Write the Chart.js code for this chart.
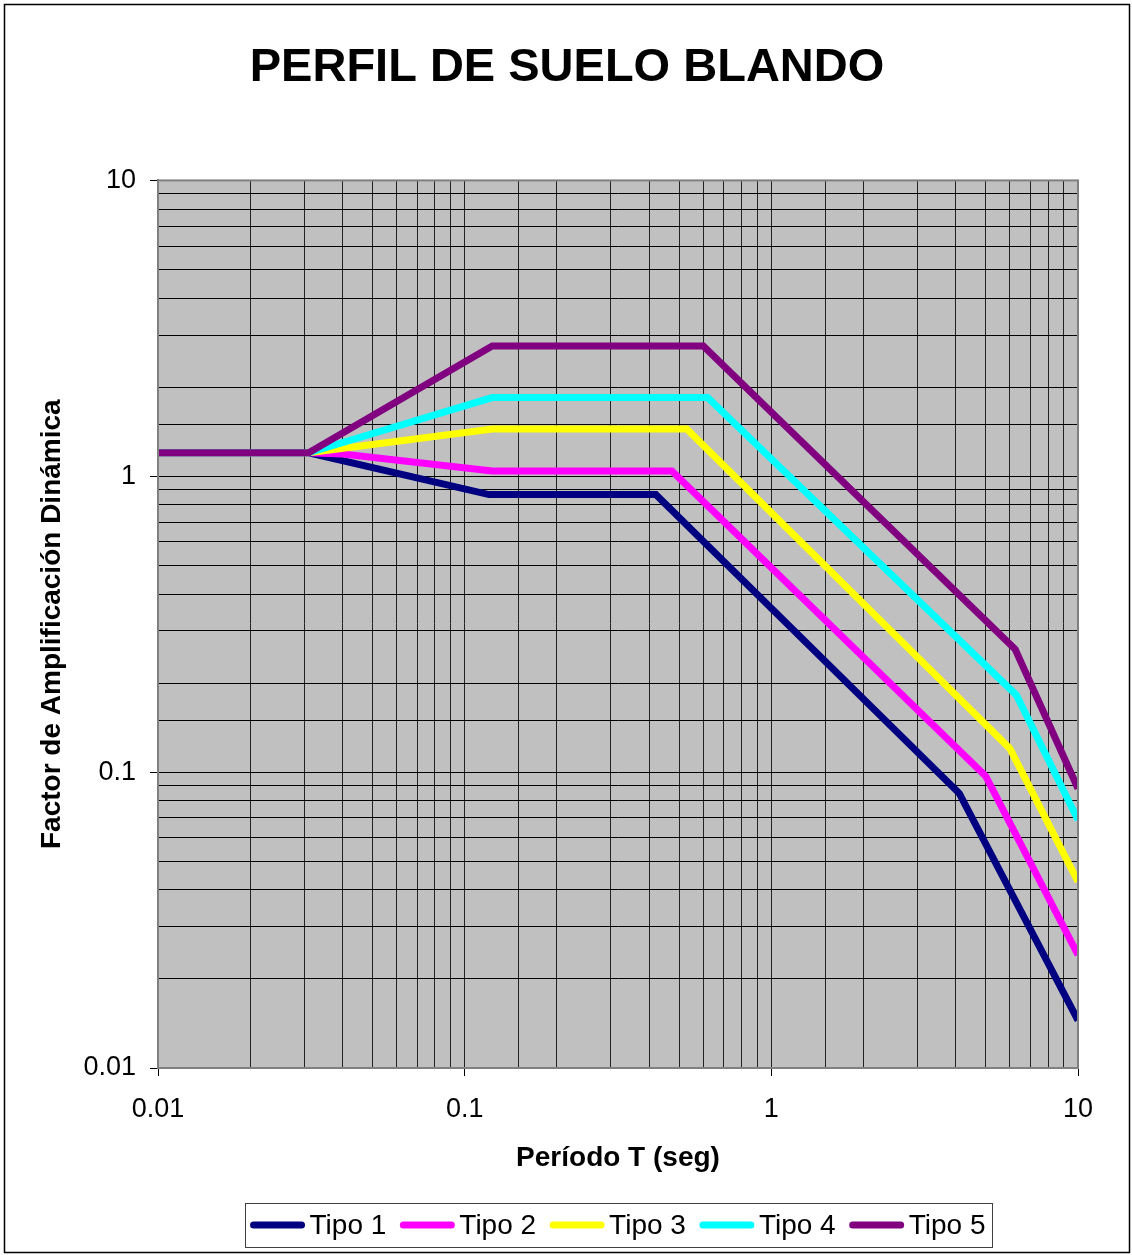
<!DOCTYPE html>
<html>
<head>
<meta charset="utf-8">
<script src="https://cdn.jsdelivr.net/npm/chart.js@4.4.1/dist/chart.umd.min.js"></script>
<style>
  html, body { margin: 0; padding: 0; background: #fff; }
  #wrap { width: 1132px; height: 1255px; }
</style>
</head>
<body>
<div id="wrap"><canvas id="chart1"></canvas></div>
<script>
// valores (periodo T en seg, factor de amplificacion)
const tipos = ["Tipo 1", "Tipo 2", "Tipo 3", "Tipo 4", "Tipo 5"];
const colores = ["#000080", "#FF00FF", "#FFFF00", "#00FFFF", "#800080"];

const periodo1 = [0.01, 0.031, 0.12, 0.42, 4.1, 10];
const tipo1 = [1.2, 1.2, 0.867, 0.867, 0.0848, 0.0145];

const periodo2 = [0.01, 0.031, 0.04, 0.123, 0.474, 5.0, 10];
const tipo2 = [1.2, 1.2, 1.19, 1.042, 1.042, 0.0969, 0.0241];

const periodo3 = [0.01, 0.031, 0.123, 0.53, 6.0, 10];
const tipo3 = [1.2, 1.2, 1.445, 1.445, 0.12, 0.0426];

const periodo4 = [0.01, 0.031, 0.123, 0.62, 6.3, 10];
const tipo4 = [1.2, 1.2, 1.845, 1.845, 0.182, 0.0689];

const periodo5 = [0.01, 0.031, 0.123, 0.6, 6.24, 10];
const tipo5 = [1.2, 1.2, 2.755, 2.755, 0.26, 0.088];

const ejeX = [0.01, 10];
const ejeY = [0.01, 10];

const periodos = [periodo1, periodo2, periodo3, periodo4, periodo5];
const valores = [tipo1, tipo2, tipo3, tipo4, tipo5];

const FUENTE = "'Liberation Sans', Arial, sans-serif";

function esPotencia(v) {
  const l = Math.log10(v);
  return Math.abs(l - Math.round(l)) < 1e-6;
}

const fondo = {
  id: "fondo",
  beforeDraw(chart) {
    const { ctx, chartArea: a } = chart;
    ctx.save();
    ctx.fillStyle = "#fff";
    ctx.fillRect(0, 0, chart.width, chart.height);
    ctx.fillStyle = "#C0C0C0";
    ctx.fillRect(a.left, a.top, a.right - a.left, a.bottom - a.top);
    ctx.restore();
  },
  afterDraw(chart) {
    const { ctx, chartArea: a } = chart;
    ctx.save();
    // marco del area de trazado
    ctx.strokeStyle = "#808080";
    ctx.lineWidth = 2;
    ctx.strokeRect(a.left, a.top, a.right - a.left, a.bottom - a.top);
    // marco exterior
    ctx.strokeStyle = "#000";
    ctx.lineWidth = 1.5;
    ctx.strokeRect(4.5, 4.5, 1125, 1248);

    // leyenda
    ctx.font = "28px " + FUENTE;
    const linea = 54, hueco = 5, sep = 14, pad = 6;
    const items = chart.data.datasets.map(d => ({
      label: d.label, color: d.borderColor, w: linea + hueco + ctx.measureText(d.label).width
    }));
    const total = items.reduce((s, it) => s + it.w, 0) + sep * (items.length - 1);
    const cx = (a.left + a.right) / 2;
    const bx = cx - total / 2 - pad, by = 1203, bw = total + pad * 2, bh = 44;
    ctx.strokeStyle = "#404040";
    ctx.lineWidth = 1;
    ctx.strokeRect(Math.round(bx) + 0.5, by + 0.5, Math.round(bw), bh);
    let x = bx + pad;
    const y = by + bh / 2;
    ctx.textBaseline = "middle";
    ctx.textAlign = "left";
    items.forEach(it => {
      ctx.strokeStyle = it.color;
      ctx.lineWidth = 7;
      ctx.lineCap = "round";
      ctx.beginPath();
      ctx.moveTo(x + 3, y);
      ctx.lineTo(x + linea - 3, y);
      ctx.stroke();
      ctx.fillStyle = "#000";
      ctx.fillText(it.label, x + linea + hueco, y + 1);
      x += it.w + sep;
    });
    ctx.restore();
  }
};

const ctx1 = document.getElementById("chart1");

new Chart(ctx1, {
  type: "line",
  data: {
    datasets: tipos.map((t, i) => ({
      label: t,
      data: periodos[i].map((p, j) => ({ x: p, y: valores[i][j] })),
      borderColor: colores[i],
      backgroundColor: colores[i],
      borderWidth: 7,
      pointRadius: 0,
      tension: 0,
      order: tipos.length - i,
    })),
  },
  options: {
    responsive: true,
    maintainAspectRatio: false,
    animation: false,
    events: [],
    layout: { padding: { left: 56, right: 54, top: 0, bottom: 70 } },
    plugins: {
      legend: { display: false },
      tooltip: { enabled: false },
      title: {
        display: true,
        text: "PERFIL DE SUELO BLANDO",
        color: "#000",
        font: { family: FUENTE, size: 47, weight: "bold" },
        padding: { top: 40, bottom: 84 },
      },
    },
    scales: {
      x: {
        type: "logarithmic",
        min: ejeX[0],
        max: ejeX[1],
        afterFit(scale) { scale.height = 117; },
        border: { color: "#808080", width: 2 },
        grid: {
          color: "#222",
          lineWidth: 1,
          tickLength: 8,
          tickColor: c => (c.tick && esPotencia(c.tick.value) ? "#000" : "rgba(0,0,0,0)"),
        },
        ticks: {
          autoSkip: false,
          maxRotation: 0,
          padding: 17,
          color: "#000",
          font: { family: FUENTE, size: 27 },
          callback: v => (esPotencia(v) ? String(Number(v.toPrecision(3))) : ""),
        },
        title: {
          display: true,
          text: "Período T (seg)",
          color: "#000",
          font: { family: FUENTE, size: 28, weight: "bold" },
          padding: { top: 0, bottom: 10 },
        },
      },
      y: {
        type: "logarithmic",
        min: ejeY[0],
        max: ejeY[1],
        afterFit(scale) { scale.width = 102; },
        border: { color: "#808080", width: 2 },
        grid: {
          color: "#000",
          lineWidth: 1,
          tickLength: 8,
          tickColor: c => (c.tick && esPotencia(c.tick.value) ? "#000" : "rgba(0,0,0,0)"),
        },
        ticks: {
          autoSkip: false,
          padding: 14,
          color: "#000",
          font: { family: FUENTE, size: 27 },
          callback: v => (esPotencia(v) ? String(Number(v.toPrecision(3))) : ""),
        },
        title: {
          display: true,
          text: "Factor de Amplificación Dinámica",
          color: "#000",
          font: { family: FUENTE, size: 28, weight: "bold" },
          padding: { top: -21, bottom: 0 },
        },
      },
    },
  },
  plugins: [fondo],
});
</script>
</body>
</html>
